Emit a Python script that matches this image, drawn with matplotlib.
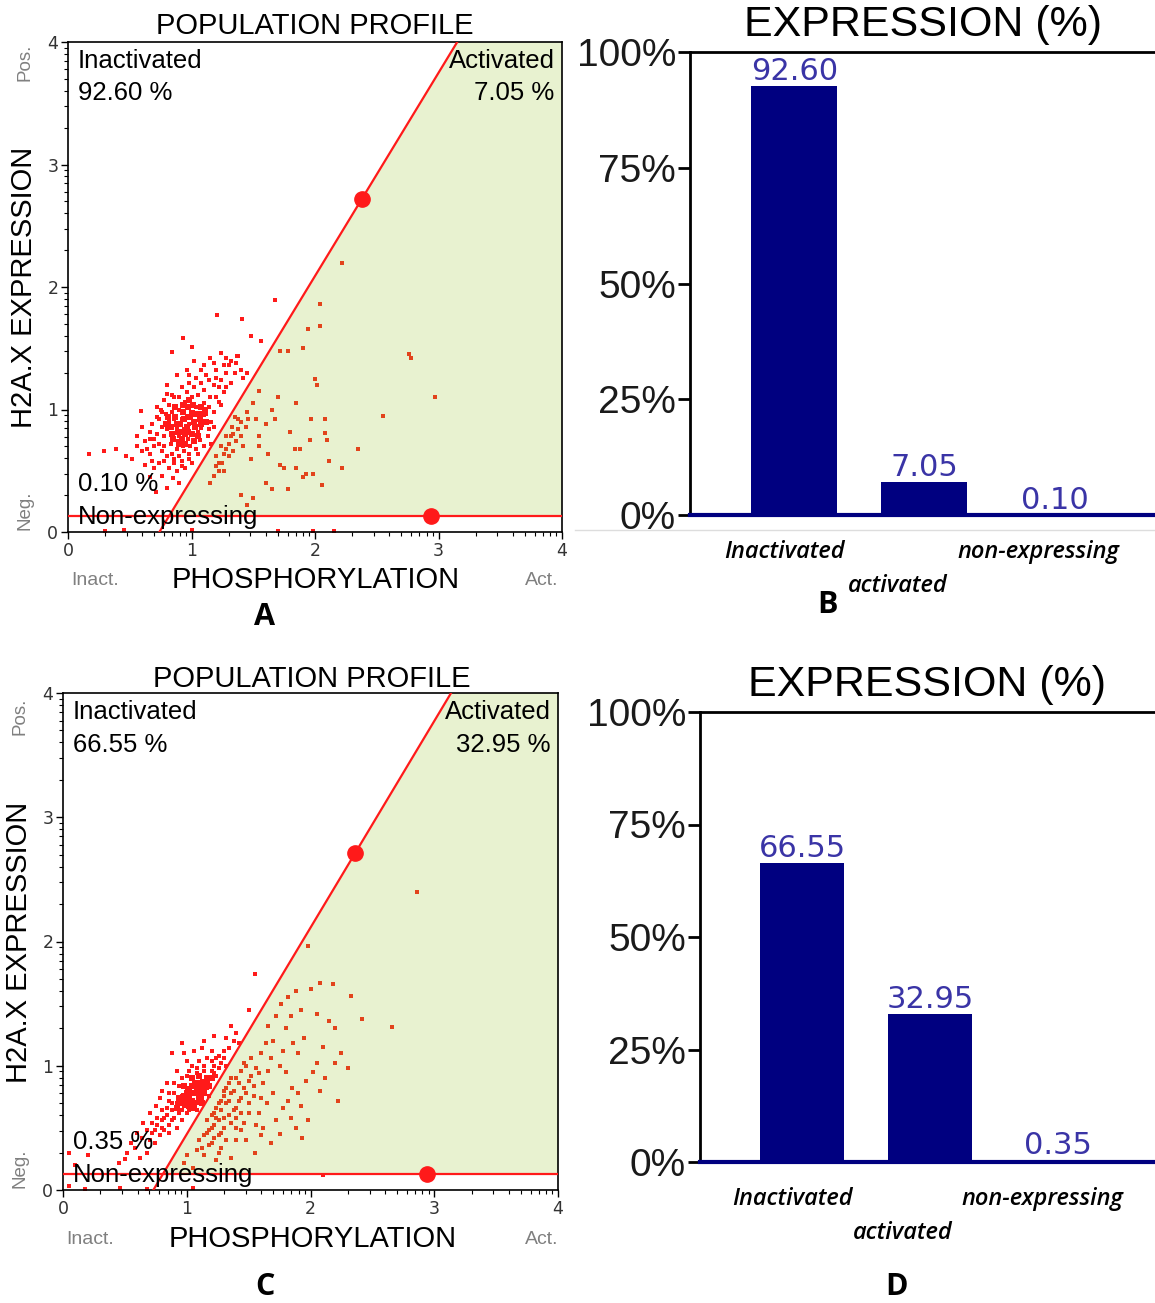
import numpy as np
import matplotlib.pyplot as plt
from matplotlib.transforms import ScaledTranslation
from matplotlib.lines import Line2D

# ---- data ----
categories = ['Inactivated', 'activated', 'non-expressing']
expr_b = [92.60, 7.05, 0.10]
expr_d = [66.55, 32.95, 0.35]
pct_ticks = [0, 25, 50, 75, 100]
pct_labels = ['0%', '25%', '50%', '75%', '100%']

# gate: line through (x0, 0) and the handle dot, threshold at y=thr
gate_a = dict(x0=0.74, hx=2.38, hy=2.72, thr=0.13, tx=2.94)
gate_c = dict(x0=0.73, hx=2.36, hy=2.71, thr=0.125, tx=2.94)

# panel A events
a_core_x = [0.90, 0.96, 1.02, 0.94, 1.00, 0.88, 1.06, 0.92, 1.00, 0.84, 1.08, 0.97,
            0.83, 0.87, 0.91, 0.95, 0.99, 1.03, 1.07, 1.11, 0.85, 0.89, 0.93, 0.97, 1.01,
            1.05, 1.09, 0.81, 0.87, 0.93, 0.98, 1.03, 1.08, 1.12, 0.95, 0.90, 1.02, 0.79]
a_core_y = [0.82, 0.86, 0.90, 0.92, 0.80, 0.88, 0.96, 0.76, 0.97, 0.80, 0.88, 1.02,
            0.86, 0.94, 0.88, 0.80, 0.94, 0.86, 0.92, 1.00, 0.76, 0.82, 0.98, 0.82, 1.04,
            0.78, 0.96, 0.94, 1.02, 1.04, 1.08, 0.96, 1.02, 0.90, 0.72, 0.72, 0.74, 0.88]
a_inact_x = [0.17, 0.29, 0.39, 0.47, 0.56, 0.59, 0.62, 0.66, 0.71, 0.80, 0.84, 0.93, 1.00, 1.21,
             1.41, 1.68, 1.48, 1.56, 1.37, 1.28, 1.10, 0.80, 0.75, 0.60,
             0.85, 0.88, 0.90, 0.92, 0.94, 0.96, 0.98, 1.00, 1.02, 1.04, 1.06, 1.08, 1.10, 1.12,
             0.86, 0.89, 0.93, 0.97, 1.01, 1.05, 0.80, 0.82, 0.78, 0.84, 0.90, 0.95, 1.00, 1.05,
             1.10, 1.15, 1.18, 1.14, 0.99, 0.94, 0.88, 0.83, 0.76, 0.74, 0.72, 0.79, 1.07,
             0.70, 0.66, 0.68, 0.64, 0.72, 0.78, 0.86, 0.92, 0.98, 1.04, 1.12, 1.20, 1.24, 1.26,
             1.22, 1.18, 1.16, 1.13, 1.10, 1.05, 0.98, 0.92, 0.86, 0.80, 0.76, 0.74, 0.82, 0.88,
             0.95, 1.28, 1.32, 1.30, 1.35, 1.36, 1.40, 1.42, 1.45,
             0.90, 0.85, 0.76, 0.68, 0.60, 1.02, 0.96, 0.88, 1.15, 1.24,
             0.70, 0.72, 0.74, 0.76, 0.82, 0.84, 0.90, 0.96, 1.02, 1.08, 1.14, 1.20, 1.22, 1.20,
             1.24, 1.18, 1.14, 1.16, 1.04, 0.98, 0.90, 0.84, 0.78, 0.66, 0.62, 0.66, 0.70, 0.78,
             0.86, 0.92, 1.00, 1.26, 1.18, 1.08, 0.98, 1.32, 1.38, 0.56, 0.52, 0.80, 1.28]
a_inact_y = [0.64, 0.66, 0.68, 0.62, 0.78, 0.99, 0.55, 0.45, 0.33, 0.36, 1.47, 1.58, 1.51, 1.77,
             1.74, 1.89, 1.60, 1.56, 1.44, 1.42, 1.36, 1.13, 1.00, 0.86,
             0.80, 0.86, 0.78, 0.92, 0.84, 0.95, 0.88, 0.98, 0.90, 1.02, 0.94, 0.85, 1.05, 0.96,
             0.92, 0.74, 0.70, 0.76, 0.80, 0.82, 0.84, 0.90, 0.78, 0.98, 1.00, 1.06, 1.10, 1.12,
             1.16, 1.10, 1.20, 1.02, 0.70, 0.66, 0.68, 0.72, 0.86, 0.92, 0.80, 0.96, 0.75,
             0.70, 0.76, 0.88, 0.68, 1.02, 1.08, 1.10, 1.18, 1.22, 1.26, 1.28, 1.32, 1.24, 1.14,
             1.06, 0.98, 0.90, 0.78, 0.70, 0.64, 0.60, 0.58, 0.60, 0.62, 0.66, 0.56, 0.52, 0.50,
             0.52, 1.30, 1.22, 1.36, 1.30, 1.38, 1.32, 1.26, 1.30,
             0.40, 0.44, 0.46, 0.58, 0.66, 1.40, 1.32, 1.28, 1.42, 1.46,
             0.76, 0.94, 0.72, 0.98, 1.04, 1.12, 1.10, 1.14, 1.18, 1.22, 1.24, 1.26, 1.18, 1.10,
             1.04, 0.86, 0.84, 0.72, 0.68, 0.64, 0.62, 0.64, 0.70, 0.82, 0.74, 0.64, 0.52, 0.58,
             0.56, 0.54, 0.56, 1.36, 1.38, 1.32, 1.28, 1.40, 1.44, 0.70, 0.60, 1.20, 1.18]
a_act_x = [1.20, 1.24, 1.28, 1.30, 1.33, 1.25, 1.22, 1.18, 1.35, 1.38, 1.40, 1.15, 1.30, 1.36,
           1.45, 1.50, 1.42, 1.55, 1.48,
           1.55, 1.60, 1.65, 1.70, 1.72, 1.78, 1.90, 1.94, 2.04, 2.04, 2.22, 1.85, 2.00, 2.02,
           1.97, 2.08, 2.10, 1.96, 1.88, 1.84, 1.72, 1.75, 1.85, 1.93, 1.98, 2.11, 2.22, 1.90,
           2.35, 2.55, 2.76, 2.78, 2.97, 1.55, 1.60, 1.65, 1.50, 1.40, 1.45, 1.62, 1.80, 2.08,
           1.78, 2.06, 1.68, 1.52,
           1.26, 1.32, 1.38, 1.22, 1.28, 1.20, 1.34, 1.40, 1.44, 1.46, 1.34, 1.26]
a_act_y = [0.62, 0.70, 0.78, 0.72, 0.86, 0.56, 0.50, 0.46, 0.94, 0.84, 0.90, 0.40, 0.62, 0.74,
           0.98, 1.05, 0.70, 1.15, 0.60,
           0.78, 0.88, 1.00, 1.10, 1.48, 1.48, 1.50, 1.66, 1.68, 1.86, 2.20, 1.05, 1.25, 1.20,
           0.92, 0.92, 0.75, 0.75, 0.68, 0.68, 0.55, 0.52, 0.52, 0.47, 0.47, 0.58, 0.52, 0.45,
           0.68, 0.95, 1.45, 1.42, 1.10, 0.70, 0.40, 0.35, 0.28, 0.30, 0.22, 0.64, 0.82, 0.81,
           0.35, 0.38, 0.92, 0.92,
           0.64, 0.78, 0.92, 0.56, 0.68, 0.54, 0.80, 0.78, 0.86, 0.92, 0.66, 0.50]
a_neg_x = [0.30, 0.45, 1.00, 1.70, 1.98, 2.15]
a_neg_y = [0.01, 0.02, 0.02, 0.01, 0.01, 0.01]

# panel C events
c_core_x = [1.04, 1.10, 1.08, 1.00, 1.14, 1.06, 0.98, 1.12, 1.16, 1.02,
            1.02, 1.06, 1.10, 1.14, 1.08, 1.04, 1.00, 0.98, 1.12, 1.16, 1.06, 1.02, 0.96,
            1.18, 1.20, 1.10, 1.04, 0.98, 0.94, 0.92]
c_core_y = [0.72, 0.76, 0.82, 0.70, 0.80, 0.66, 0.76, 0.70, 0.86, 0.80,
            0.74, 0.78, 0.72, 0.78, 0.86, 0.84, 0.78, 0.72, 0.84, 0.90, 0.70, 0.68, 0.70,
            0.84, 0.90, 0.92, 0.90, 0.84, 0.74, 0.66]
c_inact_x = [1.00, 1.04, 1.08, 1.10, 1.12, 1.06, 1.02, 0.98, 0.96, 1.00, 1.06, 1.12, 1.16, 1.18,
             1.14, 1.08, 1.20, 1.22, 1.24, 0.94, 0.92, 0.90, 0.96, 0.88, 0.86, 0.84, 0.82, 0.80,
             0.78, 0.76, 0.74, 0.72, 0.70, 0.90, 0.86, 0.94, 1.00, 1.04, 1.10, 1.16, 1.26, 1.30,
             1.28, 1.34, 1.38, 1.42, 1.20, 1.00, 0.92, 0.84, 0.78, 0.70, 0.65, 0.60, 0.55, 0.68,
             0.62, 0.50, 0.45, 0.20, 0.05, 0.10, 0.96, 0.88, 0.80, 0.75, 1.55, 1.50, 1.36, 1.22,
             1.14, 1.18,
             0.96, 1.00, 1.08, 1.22, 1.26, 0.88, 0.84, 0.82, 0.86, 0.90, 0.96, 1.02, 1.08, 1.14,
             1.20, 1.24, 1.30, 1.32, 0.80, 0.76, 0.74, 0.80, 0.88, 0.92, 0.86, 0.72, 0.68, 0.64,
             0.98, 1.06, 1.12, 1.40, 1.32, 0.58, 0.52]
c_inact_y = [0.72, 0.78, 0.70, 0.80, 0.74, 0.66, 0.64, 0.68, 0.76, 0.82, 0.86, 0.88, 0.82, 0.90,
             0.96, 0.94, 0.96, 1.00, 0.92, 0.62, 0.70, 0.58, 0.56, 0.64, 0.52, 0.60, 0.48, 0.56,
             0.44, 0.52, 0.38, 0.46, 0.40, 0.78, 0.72, 0.84, 0.92, 1.00, 1.04, 1.06, 1.08, 1.12,
             1.02, 1.14, 1.20, 1.18, 1.12, 1.04, 0.96, 0.86, 0.74, 0.62, 0.54, 0.46, 0.38, 0.30,
             0.26, 0.25, 0.22, 0.28, 0.30, 0.20, 1.18, 1.10, 0.80, 0.68, 1.74, 1.45, 1.32, 1.24,
             1.20, 0.76,
             0.64, 0.62, 0.64, 0.94, 0.98, 0.70, 0.66, 0.58, 0.78, 0.86, 0.90, 0.96, 0.98, 1.00,
             1.04, 1.06, 1.06, 1.00, 0.64, 0.58, 0.48, 0.50, 0.56, 0.50, 0.46, 0.54, 0.48, 0.42,
             1.10, 1.12, 1.14, 1.26, 1.22, 0.34, 0.30]
c_act_x = [1.20, 1.24, 1.28, 1.30, 1.34, 1.26, 1.22, 1.18, 1.14, 1.10, 1.16, 1.32, 1.36, 1.40,
           1.44, 1.38, 1.42, 1.46, 1.48, 1.52, 1.30, 1.34, 1.26, 1.20, 1.44, 1.50, 1.54, 1.56,
           1.60, 1.64, 1.50, 1.40, 1.46, 1.08, 1.00, 0.98, 1.05, 1.24, 1.36, 1.40, 1.28, 1.58,
           1.62, 1.66, 1.70, 1.72, 1.76, 1.80, 1.82, 1.84, 1.88, 1.92, 1.95, 2.00, 2.05, 2.08,
           2.10, 2.15, 2.18, 2.20, 2.25, 2.33, 2.42, 2.66, 2.86, 1.98, 1.75, 1.80, 1.85, 1.90,
           1.96, 2.02, 2.12, 2.22, 2.30, 2.20, 1.70, 1.65, 1.78, 1.92, 1.84, 1.72, 1.62, 1.75,
           1.88, 1.93, 1.68, 1.55, 1.60, 1.82, 2.05, 1.86, 1.78, 1.90, 2.08, 1.98,
           1.22, 1.26, 1.28, 1.30, 1.32, 1.36, 1.24, 1.20, 1.16, 1.30, 1.34, 1.38, 1.42, 1.40,
           1.44, 1.48, 1.52, 1.46, 1.36, 1.28, 1.22, 1.18, 1.32, 1.40, 1.54, 1.58, 1.60, 1.50,
           1.44, 1.12, 1.14, 1.26, 1.48, 1.56, 1.66, 1.68]
c_act_y = [0.60, 0.66, 0.72, 0.80, 0.86, 0.56, 0.52, 0.48, 0.44, 0.40, 0.56, 0.70, 0.78, 0.90,
           0.96, 0.64, 0.72, 0.82, 1.00, 1.06, 0.50, 0.60, 0.44, 0.38, 0.62, 0.88, 0.76, 0.98,
           1.10, 1.18, 0.70, 0.50, 0.54, 0.32, 0.28, 0.22, 0.18, 0.24, 0.26, 0.40, 0.34, 0.62,
           0.86, 1.32, 1.20, 1.40, 1.50, 1.30, 1.55, 1.40, 1.60, 1.45, 1.22, 1.62, 1.42, 1.67,
           1.15, 1.36, 1.66, 1.30, 1.10, 1.56, 1.38, 1.31, 2.40, 1.96, 1.00, 0.95, 0.82, 0.78,
           0.88, 0.95, 0.90, 0.72, 0.98, 1.02, 0.78, 0.70, 0.66, 0.68, 0.58, 0.56, 0.50, 0.45,
           0.50, 0.42, 0.38, 0.30, 0.44, 0.72, 1.02, 1.18, 1.12, 1.10, 0.80, 0.56,
           0.62, 0.70, 0.64, 0.76, 0.82, 0.90, 0.58, 0.50, 0.46, 0.58, 0.72, 0.80, 0.86, 0.66,
           0.74, 0.78, 0.92, 1.02, 0.54, 0.46, 0.42, 0.36, 0.40, 0.58, 0.84, 0.94, 0.74, 0.62,
           0.48, 0.34, 0.28, 0.30, 0.40, 0.52, 0.96, 1.06]
c_neg_x = [0.05, 0.18, 0.46, 0.68, 1.05, 2.10]
c_neg_y = [0.03, 0.01, 0.02, 0.01, 0.02, 0.12]

W, H = 1155, 1303
fig = plt.figure(figsize=(W / 100, H / 100), dpi=100)

SANS = ['Liberation Sans', 'DejaVu Sans']
RED = '#ff1a1a'
ACT_RED = '#e2441c'
GREEN = '#e8f2d0'
NAVY = '#000080'
LABEL_BLUE = '#3a34a6'


def px_axes(left, top, right, bottom):
    return fig.add_axes([left / W, 1 - bottom / H, (right - left) / W, (bottom - top) / H])


def ftext(x, y, s, **kw):
    kw.setdefault('family', SANS)
    kw.setdefault('ha', 'center')
    kw.setdefault('va', 'center')
    fig.text(x / W, 1 - y / H, s, **kw)


def decade_ticks(n):
    minors = []
    for k in range(n):
        minors += [k + np.log10(m) for m in range(2, 10)]
    return minors


def draw_profile(ax, gate, core, inact, act, neg, labels):
    x0, hx, hy, thr, tx = gate['x0'], gate['hx'], gate['hy'], gate['thr'], gate['tx']
    slope = hy / (hx - x0)
    xtop = x0 + 4 / slope
    xthr = x0 + thr / slope
    ax.fill([xthr, xtop, 4, 4], [thr, 4, 4, thr], color=GREEN, zorder=0, lw=0)

    ax.scatter(inact[0], inact[1], s=6, marker='s', color=RED, lw=0, zorder=2)
    ax.scatter(core[0], core[1], s=14, marker='s', color=RED, lw=0, zorder=2)
    ax.scatter(act[0], act[1], s=5, marker='s', color=ACT_RED, lw=0, zorder=2)
    ax.scatter(neg[0], neg[1], s=5, marker='s', color=RED, lw=0, zorder=2)

    ax.plot([x0, xtop], [0, 4], color=RED, lw=1.6, zorder=3)
    ax.axhline(thr, color=RED, lw=1.6, zorder=3)
    ax.plot([hx, tx], [hy, thr], 'o', color=RED, ms=11, zorder=4)

    ax.set_xlim(0, 4)
    ax.set_ylim(0, 4)
    ax.set_xticks([0, 1, 2, 3, 4])
    ax.set_yticks([0, 1, 2, 3, 4])
    ax.set_xticks(decade_ticks(4), minor=True)
    ax.set_yticks(decade_ticks(4), minor=True)
    ax.tick_params(which='major', length=5, width=1, labelsize=12.5, labelcolor='#333333', pad=2)
    ax.tick_params(which='minor', length=3, width=0.8)
    for sp in ax.spines.values():
        sp.set_linewidth(1.2)

    fs = 18.5
    ax.text(0.02, 0.961, 'Inactivated', transform=ax.transAxes, fontsize=fs, family=SANS,
            va='center', ha='left', zorder=5)
    ax.text(0.02, 0.896, labels[0], transform=ax.transAxes, fontsize=fs, family=SANS,
            va='center', ha='left', zorder=5)
    ax.text(0.985, 0.961, 'Activated', transform=ax.transAxes, fontsize=fs, family=SANS,
            va='center', ha='right', zorder=5)
    ax.text(0.985, 0.896, labels[1], transform=ax.transAxes, fontsize=fs, family=SANS,
            va='center', ha='right', zorder=5)
    ax.text(0.02, 0.097, labels[2], transform=ax.transAxes, fontsize=fs, family=SANS,
            va='center', ha='left', zorder=5)
    ax.text(0.02, 0.031, 'Non-expressing', transform=ax.transAxes, fontsize=fs, family=SANS,
            va='center', ha='left', zorder=5)


def draw_expression(ax, values, xlim):
    pos = np.arange(len(values))
    bars = ax.bar(pos, values, width=0.66, color=NAVY, zorder=2)
    ax.bar_label(bars, labels=['%.2f' % v for v in values], padding=0, color=LABEL_BLUE,
                 fontsize=22, family='DejaVu Sans')
    ax.set_xlim(*xlim)
    ax.set_ylim(0, 100)
    ax.set_yticks(pct_ticks)
    ax.set_yticklabels(pct_labels, fontsize=28, family=SANS, color='#1a1a1a')
    ax.tick_params(axis='y', length=9, width=2, pad=1)
    ax.set_xticks(pos)
    ax.set_xticklabels(categories, fontsize=17, style='italic', weight='semibold',
                       family=['Open Sans', 'DejaVu Sans'])
    ax.tick_params(axis='x', length=0, pad=18)
    offsets = [(-10, 0), (-27, -34), (-16, 0)]
    for lab, (dx, dy) in zip(ax.get_xticklabels(), offsets):
        lab.set_transform(lab.get_transform() + ScaledTranslation(dx / 100, dy / 100, fig.dpi_scale_trans))
    ax.spines['right'].set_visible(False)
    ax.spines['left'].set_linewidth(2)
    ax.spines['top'].set_linewidth(2)
    ax.spines['bottom'].set_color(NAVY)
    ax.spines['bottom'].set_linewidth(3)


# panel A
ax_a = px_axes(68, 42, 562, 532)
draw_profile(ax_a, gate_a, (a_core_x, a_core_y), (a_inact_x, a_inact_y), (a_act_x, a_act_y),
             (a_neg_x, a_neg_y), ['92.60 %', '7.05 %', '0.10 %'])
ftext(315, 26, 'POPULATION PROFILE', fontsize=21)
ftext(24, 287, 'H2A.X EXPRESSION', fontsize=21, rotation=90)
ftext(25, 62, 'Pos.', fontsize=13.5, rotation=90, color='#808080')
ftext(25, 510, 'Neg.', fontsize=13.5, rotation=90, color='#808080')
ftext(316, 580, 'PHOSPHORYLATION', fontsize=21)
ftext(95, 581, 'Inact.', fontsize=14, color='#808080')
ftext(542, 581, 'Act.', fontsize=14, color='#808080')
ftext(265, 617, 'A', fontsize=22, weight='bold', family=['Open Sans', 'DejaVu Sans'])

# panel C
ax_c = px_axes(63, 693, 558, 1190)
draw_profile(ax_c, gate_c, (c_core_x, c_core_y), (c_inact_x, c_inact_y), (c_act_x, c_act_y),
             (c_neg_x, c_neg_y), ['66.55 %', '32.95 %', '0.35 %'])
ftext(312, 679, 'POPULATION PROFILE', fontsize=21)
ftext(19, 942, 'H2A.X EXPRESSION', fontsize=21, rotation=90)
ftext(20, 716, 'Pos.', fontsize=13.5, rotation=90, color='#808080')
ftext(20, 1168, 'Neg.', fontsize=13.5, rotation=90, color='#808080')
ftext(313, 1239, 'PHOSPHORYLATION', fontsize=21)
ftext(90, 1239, 'Inact.', fontsize=14, color='#808080')
ftext(542, 1239, 'Act.', fontsize=14, color='#808080')
ftext(265, 1287, 'C', fontsize=22, weight='bold', family=['Open Sans', 'DejaVu Sans'])

# panel B
ax_b = px_axes(690, 52, 1155, 515)
draw_expression(ax_b, expr_b, (-0.8, 2.77))
ftext(923, 25, 'EXPRESSION (%)', fontsize=31)
ftext(828, 605, 'B', fontsize=22, weight='bold', family=['Open Sans', 'DejaVu Sans'])
fig.add_artist(Line2D([575 / W, 1.0], [1 - 530 / H, 1 - 530 / H], color='#dddddd', lw=1))

# panel D
ax_d = px_axes(700, 712, 1155, 1162)
draw_expression(ax_d, expr_d, (-0.8, 2.76))
ftext(927, 685, 'EXPRESSION (%)', fontsize=31)
ftext(897, 1287, 'D', fontsize=22, weight='bold', family=['Open Sans', 'DejaVu Sans'])

fig.savefig('out.png', dpi=100)
